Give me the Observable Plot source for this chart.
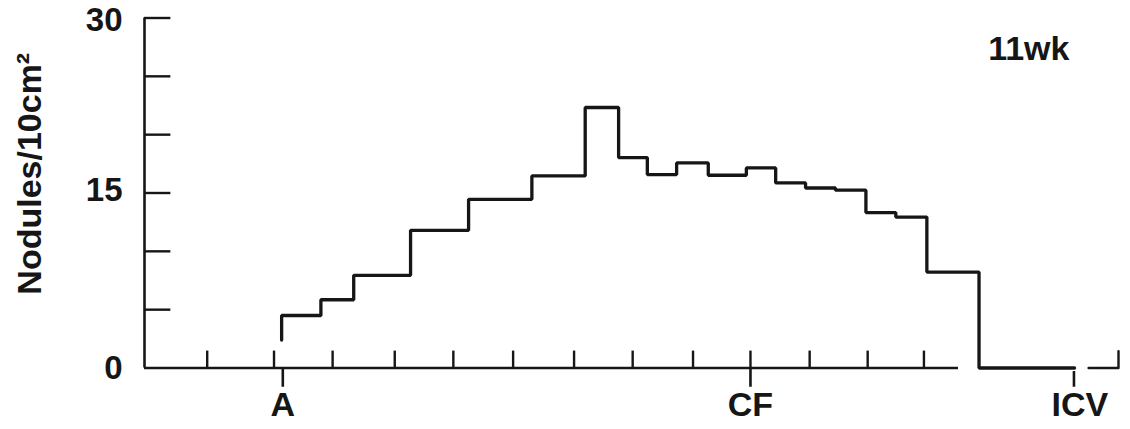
<!DOCTYPE html>
<html>
<head>
<meta charset="utf-8">
<script src="https://cdn.jsdelivr.net/npm/d3@7"></script>
<script src="https://cdn.jsdelivr.net/npm/@observablehq/plot@0.6"></script>
<style>
  html, body { margin: 0; padding: 0; background: #fff; }
</style>
</head>
<body>
<div id="chart"></div>
<script>
// Position along the colon (arbitrary units; A = 0, CF = 8)
const binEdges = [0, 0.67, 1.23, 2.20, 3.19, 4.27, 5.18, 5.75, 6.24, 6.74, 7.28, 7.93, 8.43, 8.94, 9.45, 9.97, 10.48, 11.01, 11.90, 13.53];
// Nodules per 10 cm² in each segment
const binValues = [4.5, 5.85, 7.94, 11.8, 14.46, 16.46, 22.33, 18.04, 16.58, 17.58, 16.52, 17.15, 15.86, 15.43, 15.24, 13.32, 12.94, 8.22, 0];
const startValue = 2.4; // the step line starts slightly above baseline at A

const yTickValues = [5, 10, 15, 20, 25, 30];
const yTickLabels = [0, 15, 30];
const yLabelNudge = [0, 0.25, -0.22]; // small vertical offsets seen in the original lettering
const xTicksUp = [-1.27, -0.13, 0.87, 1.93, 2.93, 3.95, 4.99, 5.99, 7.02, 8, 9.01, 10.0, 10.96];
const landmarkNames = ["A", "CF", "ICV"];
const landmarkTickPos = [0.02, 8, 13.52];
const landmarkLabelPos = [0.02, 8, 13.62];

const xMin = -2.34, xMax = 14.28;
const axisBreakLeft = 11.55, axisBreakRight = 13.77;
const ink = "#161616";

// step line points
const steps = [{x: binEdges[0], y: startValue}];
binValues.forEach((v, i) => steps.push({x: binEdges[i], y: v}));
steps.push({x: binEdges[binEdges.length - 1], y: binValues[binValues.length - 1]});

const tail = [{x: axisBreakRight, y: 0}, {x: xMax, y: 0}, {x: xMax, y: 1.45}];

const chart = Plot.plot({
  width: 1130,
  height: 429,
  marginLeft: 144,
  marginRight: 12,
  marginTop: 17.5,
  marginBottom: 61.5,
  x: {domain: [xMin, xMax], axis: null},
  y: {domain: [0, 30], axis: null},
  style: {fontFamily: "'Liberation Sans', Arial, sans-serif", background: "#fff", color: ink},
  marks: [
    // y axis line
    Plot.ruleX([xMin], {y1: 0, y2: 30, stroke: ink, strokeWidth: 2.6}),
    // y ticks pointing inward
    Plot.ruleY(yTickValues, {y: d => d, x1: xMin, x2: xMin + 0.45, stroke: ink, strokeWidth: 2.4}),
    // x baseline (broken)
    Plot.ruleY([0], {x1: xMin, x2: axisBreakLeft, stroke: ink, strokeWidth: 2.4}),
    Plot.line(tail, {x: "x", y: "y", stroke: ink, strokeWidth: 2.4}),
    // x ticks upward
    Plot.ruleX(xTicksUp, {x: d => d, y1: 0, y2: 1.45, stroke: ink, strokeWidth: 2.4}),
    // landmark ticks downward
    Plot.ruleX(landmarkTickPos, {x: d => d, y1: (d, i) => i === 2 ? -0.3 : 0, y2: -1.65, stroke: ink, strokeWidth: 2.6}),
    // histogram step line
    Plot.line(steps, {x: "x", y: "y", curve: "step-after", stroke: ink, strokeWidth: 3.3, strokeLinejoin: "miter"}),
    // y tick labels
    Plot.text(yTickLabels, {x: xMin, y: (d, i) => d + yLabelNudge[i], dx: -22, text: d => String(d), textAnchor: "end", fontSize: 33, fontWeight: "bold", fill: ink}),
    // landmark labels
    Plot.text(landmarkNames, {x: (d, i) => landmarkLabelPos[i], y: -3.2, text: d => d, fontSize: 34, fontWeight: "bold", fill: ink}),
    // y axis title
    Plot.text(["Nodules/10cm²"], {x: -4.30, y: 16.65, text: d => d, rotate: -90, fontSize: 34, fontWeight: "bold", fill: ink}),
    // panel label
    Plot.text(["11wk"], {x: 12.75, y: 27.3, text: d => d, fontSize: 34, fontWeight: "bold", fill: ink})
  ]
});
document.getElementById("chart").appendChild(chart);
</script>
</body>
</html>
